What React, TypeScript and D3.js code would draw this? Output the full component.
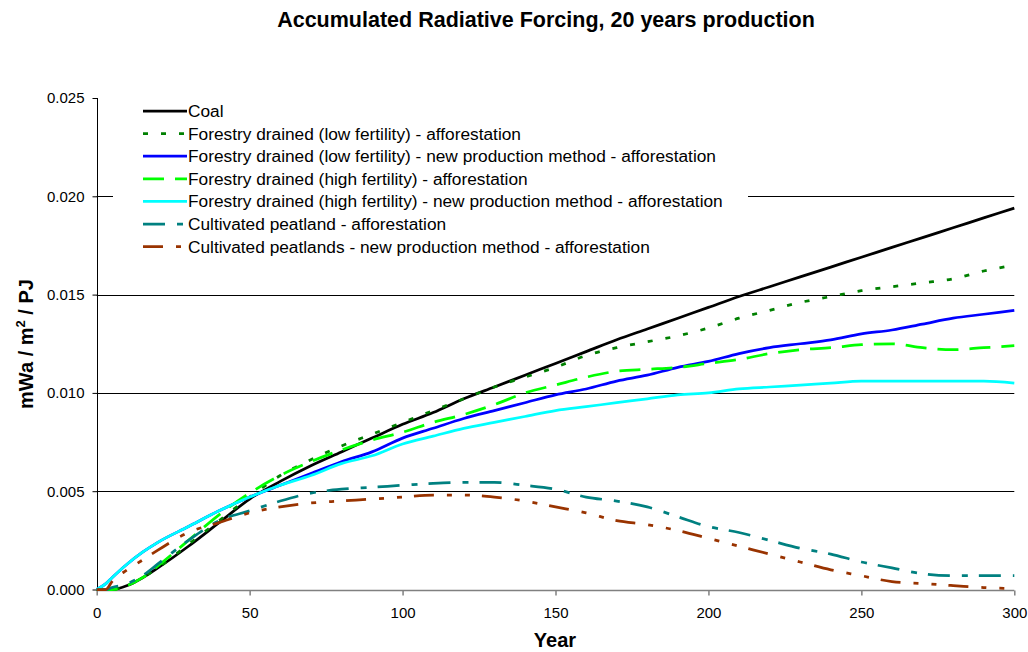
import { useEffect, useRef } from 'react'
import * as d3 from 'd3'

const years = [0, 3, 5, 10, 15, 20, 30, 40, 50, 60, 70, 80, 90, 100, 110, 120, 130, 140, 150, 160, 170, 180, 190, 200, 210, 220, 230, 240, 250, 260, 270, 280, 290, 300]

const coal = [0, 0, 0, 0.0002, 0.0006, 0.0011, 0.0022, 0.0034, 0.0046, 0.0055, 0.0063, 0.0070, 0.0077, 0.0084, 0.0090, 0.0097, 0.0103, 0.0109, 0.0115, 0.0121, 0.0127, 0.01325, 0.0138, 0.01435, 0.0149, 0.0154, 0.0159, 0.0164, 0.0169, 0.0174, 0.0179, 0.0184, 0.0189, 0.0194]
const lowFert = [0, 0, 0, 0.0002, 0.0006, 0.0011, 0.0023, 0.0035, 0.0047, 0.0058, 0.0066, 0.0073, 0.0079, 0.0085, 0.0091, 0.0097, 0.0103, 0.0108, 0.0113, 0.0119, 0.0123, 0.0126, 0.0129, 0.0133, 0.0138, 0.0142, 0.0146, 0.0149, 0.0152, 0.0154, 0.0156, 0.0158, 0.0162, 0.0165]
const lowFertNew = [0, 0.0003, 0.0006, 0.0013, 0.0019, 0.0024, 0.0032, 0.0040, 0.0047, 0.0053, 0.0059, 0.0065, 0.0070, 0.0077, 0.0082, 0.0087, 0.0091, 0.0095, 0.0099, 0.0102, 0.0106, 0.0109, 0.0113, 0.0116, 0.0120, 0.0123, 0.0125, 0.0127, 0.0130, 0.0132, 0.0135, 0.0138, 0.0140, 0.0142]
const highFert = [0, 0, 0, 0.0002, 0.0006, 0.0012, 0.0025, 0.0038, 0.0049, 0.0058, 0.0065, 0.0071, 0.0076, 0.0080, 0.0085, 0.0089, 0.0094, 0.0100, 0.0104, 0.0108, 0.0111, 0.0112, 0.0113, 0.0115, 0.0117, 0.0120, 0.0122, 0.0123, 0.01245, 0.0125, 0.0123, 0.0122, 0.0123, 0.0124]
const highFertNew = [0, 0.0003, 0.0006, 0.0013, 0.0019, 0.0024, 0.0032, 0.0040, 0.0047, 0.0053, 0.0058, 0.0064, 0.0068, 0.0074, 0.0078, 0.0082, 0.0085, 0.0088, 0.0091, 0.0093, 0.0095, 0.0097, 0.0099, 0.0100, 0.0102, 0.0103, 0.0104, 0.0105, 0.0106, 0.0106, 0.0106, 0.0106, 0.0106, 0.0105]
const cultivated = [0, 0, 0.0001, 0.0003, 0.0007, 0.0013, 0.0025, 0.0035, 0.0040, 0.0045, 0.0049, 0.0051, 0.0052, 0.0053, 0.0054, 0.00545, 0.00545, 0.0053, 0.0051, 0.0047, 0.0045, 0.0042, 0.0037, 0.0032, 0.0029, 0.0025, 0.0021, 0.0018, 0.0014, 0.0011, 0.0008, 0.0007, 0.0007, 0.0007]
const cultivatedNew = [0, 0, 0.0004, 0.0010, 0.0015, 0.0020, 0.0029, 0.0034, 0.0039, 0.0042, 0.0044, 0.0045, 0.0046, 0.0047, 0.0048, 0.0048, 0.0047, 0.0045, 0.0042, 0.0039, 0.0035, 0.0033, 0.0030, 0.0026, 0.0022, 0.0018, 0.0014, 0.0010, 0.0007, 0.0004, 0.0003, 0.0002, 0.0001, 0.00005]

const seriesNames = [
  'Coal',
  'Forestry drained (low fertility) - afforestation',
  'Forestry drained (low fertility) - new production method - afforestation',
  'Forestry drained (high fertility) - afforestation',
  'Forestry drained (high fertility) - new production method - afforestation',
  'Cultivated peatland - afforestation',
  'Cultivated peatlands - new production method - afforestation',
]
const seriesValues = [coal, lowFert, lowFertNew, highFert, highFertNew, cultivated, cultivatedNew]
const seriesColors = ['#000000', '#008000', '#0000ff', '#00ff00', '#00ffff', '#008080', '#993300']
const seriesDash = ['', '5,13', '', '21,11', '', '22,12,6,11', '20,13,5,13,5,12']

const xTicks = [0, 50, 100, 150, 200, 250, 300]
const yTicks = [0, 0.005, 0.01, 0.015, 0.02, 0.025]

const W = 1028
const H = 652
const FONT = '"Liberation Sans", Arial, sans-serif'

export default function App() {
  const ref = useRef<SVGSVGElement>(null)

  useEffect(() => {
    if (!ref.current) return
    const svg = d3.select(ref.current)
    svg.selectAll('*').remove()

    const x = d3.scaleLinear().domain([0, 300]).range([96.7, 1014.3])
    const y = d3.scaleLinear().domain([0, 0.025]).range([589.5, 98])

    svg.append('rect').attr('width', W).attr('height', H).attr('fill', '#fff')

    // gridlines
    svg.append('g')
      .selectAll('line')
      .data(yTicks.filter(d => d > 0 && d < 0.025))
      .join('line')
      .attr('x1', x(0)).attr('x2', x(300))
      .attr('y1', d => Math.round(y(d)) + 0.5).attr('y2', d => Math.round(y(d)) + 0.5)
      .attr('stroke', '#000').attr('stroke-width', 1)

    // y axis
    const yAxis = svg.append('g')
      .attr('transform', `translate(${Math.round(x(0)) + 0.5},0)`)
      .call(d3.axisLeft(y).tickValues(yTicks).tickFormat(d3.format('.3f')).tickSize(5).tickPadding(8))
    yAxis.selectAll('path,line').attr('stroke', '#000')
    yAxis.select('.domain').attr('d', `M0,${y(0.025)}V${y(0)}`)
    yAxis.selectAll('text').attr('font-family', FONT).attr('font-size', 15).attr('fill', '#000')

    // x axis
    const xAxis = svg.append('g')
      .attr('transform', `translate(0,${Math.round(y(0)) + 0.5})`)
      .call(d3.axisBottom(x).tickValues(xTicks).tickFormat(d3.format('d')).tickSize(5).tickPadding(12))
    xAxis.selectAll('path,line').attr('stroke', '#808080').attr('stroke-width', 1.5)
    xAxis.select('.domain').attr('d', `M${x(0)},0H${x(300)}`)
    xAxis.selectAll('text').attr('font-family', FONT).attr('font-size', 15).attr('fill', '#000')

    // series
    const line = d3.line<number>()
      .x((_, i) => x(years[i]))
      .y(d => y(d))
      .curve(d3.curveMonotoneX)

    seriesValues.forEach((vals, i) => {
      svg.append('path')
        .attr('d', line(vals) as string)
        .attr('fill', 'none')
        .attr('stroke', seriesColors[i])
        .attr('stroke-width', 2.75)
        .attr('stroke-dasharray', seriesDash[i] || null)
    })

    // legend
    const lg = svg.append('g')
    lg.append('rect')
      .attr('x', 113).attr('y', 100).attr('width', 635).attr('height', 158)
      .attr('fill', '#fff')
    seriesNames.forEach((name, i) => {
      const cy = 111 + i * 22.6
      lg.append('line')
        .attr('x1', 143).attr('x2', 187).attr('y1', cy).attr('y2', cy)
        .attr('stroke', seriesColors[i]).attr('stroke-width', 2.75)
        .attr('stroke-dasharray', seriesDash[i] || null)
      lg.append('text')
        .attr('x', 188).attr('y', cy).attr('dy', '0.35em')
        .attr('font-family', FONT).attr('font-size', 17.3)
        .text(name)
    })

    // titles
    svg.append('text')
      .attr('x', 546).attr('y', 27)
      .attr('text-anchor', 'middle')
      .attr('font-family', FONT).attr('font-size', 21.5).attr('font-weight', 'bold')
      .text('Accumulated Radiative Forcing, 20 years production')

    svg.append('text')
      .attr('x', 555).attr('y', 647)
      .attr('text-anchor', 'middle')
      .attr('font-family', FONT).attr('font-size', 20).attr('font-weight', 'bold')
      .text('Year')

    const yl = svg.append('text')
      .attr('transform', 'translate(33,344) rotate(-90)')
      .attr('text-anchor', 'middle')
      .attr('font-family', FONT).attr('font-size', 20).attr('font-weight', 'bold')
    yl.append('tspan').text('mWa / m')
    yl.append('tspan').attr('dy', -8).attr('font-size', 13).text('2')
    yl.append('tspan').attr('dy', 8).text(' / PJ')
  }, [])

  return (
    <svg ref={ref} width={W} height={H}
      style={{ display: 'block', position: 'absolute', left: 0, top: 0 }} />
  )
}
